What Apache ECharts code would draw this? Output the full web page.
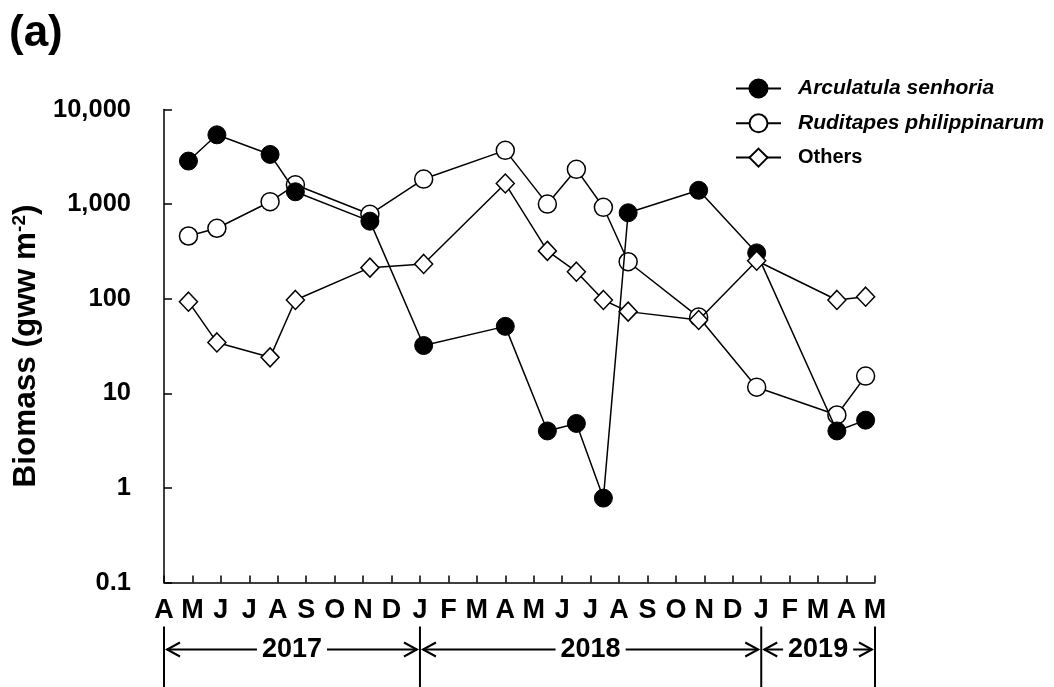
<!DOCTYPE html>
<html>
<head>
<meta charset="utf-8">
<style>
  html, body { margin: 0; padding: 0; background: #fff; }
  #chart { width: 1054px; height: 687px; }
</style>
<script src="https://cdn.jsdelivr.net/npm/echarts@6/dist/echarts.min.js"></script>
</head>
<body>
<div id="chart"></div>
<script>
// Sampling dates as months elapsed since 1 April 2017
const sampleMonths = [0.86, 1.86, 3.73, 4.62, 7.24, 9.13, 12.0, 13.48, 14.5, 15.45, 16.32, 18.8, 20.84, 23.66, 24.67];

// Biomass, g wet weight per m2
const arculatula = [2850, 5400, 3350, 1350, 660, 32, 51, 4.0, 4.8, 0.78, 810, 1400, 305, 4.0, 5.2];
const ruditapes  = [460, 555, 1060, 1600, 780, 1840, 3700, 1000, 2330, 925, 246, 64, 11.6, 5.9, 15.2];
const others     = [93, 34.5, 24, 97, 213, 233, 1650, 320, 193, 97, 73, 59.5, 252, 97, 105];

const seriesNames = ['Arculatula senhoria', 'Ruditapes philippinarum', 'Others'];

// One label per month tick, April 2017 .. May 2019
const monthLabels = ['A','M','J','J','A','S','O','N','D','J','F','M','A','M','J','J','A','S','O','N','D','J','F','M','A','M'];
const yTickLabels = ['0.1', '1', '10', '100', '1,000', '10,000'];

// Year spans along the month axis (month index of start and end)
const yearLabels = ['2017', '2018', '2019'];
const yearBounds = [0, 9, 21, 25];

const FONT = '"Liberation Sans", Arial, sans-serif';
const pairs = vals => sampleMonths.map((m, i) => [m, vals[i]]);

const chart = echarts.init(document.getElementById('chart'), null, { renderer: 'canvas' });

const lineStyle = { color: '#000', width: 1.5 };

const option = {
  animation: false,
  backgroundColor: '#fff',
  textStyle: { fontFamily: FONT, color: '#000' },
  title: {
    text: '(a)',
    left: 9,
    top: 12,
    padding: 0,
    textStyle: { fontFamily: FONT, fontSize: 44, fontWeight: 'bold', color: '#000' }
  },
  legend: {
    orient: 'vertical',
    left: 735,
    top: 78,
    padding: 0,
    itemWidth: 45,
    itemHeight: 22.5,
    itemGap: 13.8,
    textStyle: { fontFamily: FONT, fontSize: 21, fontWeight: 'bold', color: '#000', padding: [0, 0, 0, 12] },
    data: [
      { name: seriesNames[0], textStyle: { fontStyle: 'italic' } },
      { name: seriesNames[1], textStyle: { fontStyle: 'italic' } },
      { name: seriesNames[2], textStyle: { fontSize: 20 } }
    ]
  },
  grid: { left: 164, right: 179, top: 109.5, bottom: 104.5 },
  xAxis: {
    type: 'value',
    min: 0,
    max: 25,
    interval: 1,
    splitLine: { show: false },
    axisLine: { lineStyle: { color: '#000', width: 1.5 } },
    axisTick: { inside: true, length: 7, lineStyle: { color: '#000', width: 1.5 } },
    axisLabel: {
      margin: 15,
      fontFamily: FONT,
      fontSize: 27,
      fontWeight: 'bold',
      color: '#000',
      formatter: v => monthLabels[Math.round(v)] || ''
    }
  },
  yAxis: {
    type: 'log',
    logBase: 10,
    min: 0.1,
    max: 10000,
    splitLine: { show: false },
    axisLine: { show: true, lineStyle: { color: '#000', width: 1.5 } },
    axisTick: { show: true, inside: true, length: 8, lineStyle: { color: '#000', width: 1.5 } },
    axisLabel: {
      margin: 33,
      fontFamily: FONT,
      fontSize: 25.5,
      fontWeight: 'bold',
      color: '#000',
      formatter: v => yTickLabels[Math.round(Math.log10(v)) + 1]
    },
    name: 'Biomass (gww m{sup|-2})',
    nameLocation: 'middle',
    nameGap: 121,
    nameTextStyle: {
      fontFamily: FONT,
      fontSize: 31.5,
      fontWeight: 'bold',
      color: '#000',
      rich: {
        sup: { fontFamily: FONT, fontSize: 19, fontWeight: 'bold', color: '#000', verticalAlign: 'top' }
      }
    }
  },
  series: [
    {
      name: seriesNames[1],
      type: 'line',
      data: pairs(ruditapes),
      symbol: 'circle',
      symbolSize: 18,
      itemStyle: { color: '#fff', borderColor: '#000', borderWidth: 1.5 },
      lineStyle: lineStyle,
      z: 2
    },
    {
      name: seriesNames[0],
      type: 'line',
      data: pairs(arculatula),
      symbol: 'circle',
      symbolSize: 18,
      itemStyle: { color: '#000', borderColor: '#000', borderWidth: 1 },
      lineStyle: lineStyle,
      z: 3
    },
    {
      name: seriesNames[2],
      type: 'line',
      data: pairs(others),
      symbol: 'diamond',
      symbolSize: [18, 19],
      itemStyle: { color: '#fff', borderColor: '#000', borderWidth: 1.5 },
      lineStyle: lineStyle,
      z: 4
    }
  ]
};

chart.setOption(option);

// Year brackets under the month labels, placed from the axis scale
function yearGraphics() {
  const axisY = chart.convertToPixel({ yAxisIndex: 0 }, 0.1);
  const xs = yearBounds.map(m => chart.convertToPixel({ xAxisIndex: 0 }, m));
  const top = axisY + 44, bottom = axisY + 106, arrowY = axisY + 67;
  const stroke = { stroke: '#000', lineWidth: 2 };
  const els = [];
  xs.forEach(x => {
    els.push({ type: 'line', shape: { x1: x, y1: top, x2: x, y2: bottom }, style: stroke, silent: true });
  });
  const head = 13, half = 7;
  yearLabels.forEach((label, i) => {
    const a = xs[i] + 3, b = xs[i + 1] - 3;
    els.push({ type: 'line', shape: { x1: a, y1: arrowY, x2: b, y2: arrowY }, style: stroke, silent: true });
    els.push({ type: 'polyline', shape: { points: [[a + head, arrowY - half], [a, arrowY], [a + head, arrowY + half]] },
               style: { stroke: '#000', lineWidth: 2, fill: null }, silent: true });
    els.push({ type: 'polyline', shape: { points: [[b - head, arrowY - half], [b, arrowY], [b - head, arrowY + half]] },
               style: { stroke: '#000', lineWidth: 2, fill: null }, silent: true });
    els.push({
      type: 'text', silent: true, z: 10,
      x: (xs[i] + xs[i + 1]) / 2, y: arrowY,
      style: {
        text: label, fontFamily: FONT, fontSize: 27, fontWeight: 'bold', fill: '#000',
        align: 'center', verticalAlign: 'middle',
        backgroundColor: '#fff', padding: [0, 5]
      }
    });
  });
  return els;
}

chart.setOption({ graphic: yearGraphics() });
</script>
</body>
</html>
